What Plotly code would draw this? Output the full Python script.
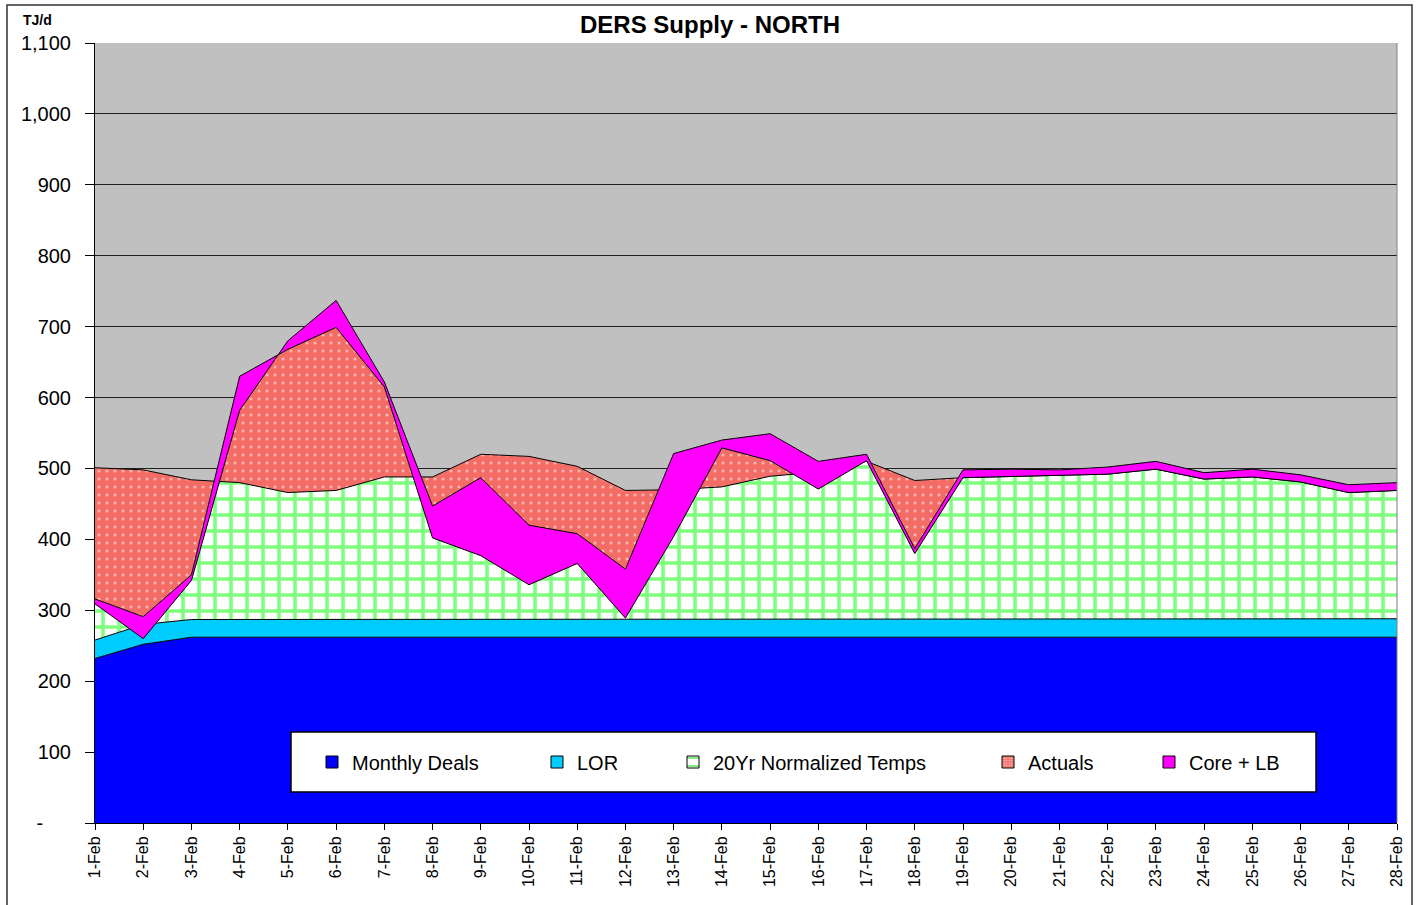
import numpy as np
import plotly.graph_objects as go

# ---------------- data (TJ/d), stacked in this order ----------------
dates = ["1-Feb", "2-Feb", "3-Feb", "4-Feb", "5-Feb", "6-Feb", "7-Feb", "8-Feb", "9-Feb", "10-Feb",
         "11-Feb", "12-Feb", "13-Feb", "14-Feb", "15-Feb", "16-Feb", "17-Feb", "18-Feb", "19-Feb",
         "20-Feb", "21-Feb", "22-Feb", "23-Feb", "24-Feb", "25-Feb", "26-Feb", "27-Feb", "28-Feb"]

monthly_deals = [232, 252, 262, 262, 262, 262, 262, 262, 262, 262, 262, 262, 262, 262,
                 262, 262, 262, 262, 262, 262, 262, 262, 262, 262, 262, 262, 262, 262]
lor = [26, 28, 25, 25, 25, 25, 25, 25, 25, 26, 26, 26, 26, 26,
       26, 26, 26, 26, 26, 26, 26, 26, 26, 26, 26, 26, 26, 26]
normalized_20yr = [243, 218, 197, 193, 179, 182, 201, 201, 233, 229, 215, 181, 182, 186,
                   201, 207, 222, 195, 199, 201, 202, 204, 211, 197, 200, 193, 178, 181]
actuals = [-185, -207, -134, 150, 202, 230, 127, -86, -143, -181, -137, -180, -66, 55,
           22, -24, 1, -103, 0, 0, 0, 0, 0, 0, 0, 0, 0, 0]
core_lb = [-7, -31, -8, -48, 12, 38, 7, 45, 110, 84, 42, 69, 117, 11,
           38, 39, 9, 7, 11, 10, 8, 10, 11, 9, 11, 10, 11, 11]

series_names = ["Monthly Deals", "LOR", "20Yr Normalized Temps", "Actuals", "Core + LB"]
y_tick_values = [0, 100, 200, 300, 400, 500, 600, 700, 800, 900, 1000, 1100]
y_tick_labels = ["-\u00a0\u00a0\u00a0\u00a0\u00a0", "100", "200", "300", "400", "500", "600",
                 "700", "800", "900", "1,000", "1,100"]

# ---------------- styling ----------------
FONT = "Liberation Sans, Arial, sans-serif"
W, H = 1420, 905
PL, PR, PT, PB = 95, 1397, 43, 823          # plot area in pixels


def px_x(px):
    return (px - PL) / (PR - PL)


def px_y(py):
    return (PB - py) / (PB - PT)


RED = "#F46C66"
styles = [
    dict(fillcolor="#0000FF"),
    dict(fillcolor="#00CCFF"),
    dict(fillpattern=dict(shape="+", fgcolor="#00FF00", bgcolor="white", size=16, solidity=0.4)),
    dict(fillpattern=dict(shape=".", fgcolor="white", bgcolor=RED, size=8, solidity=0.12)),
    dict(fillcolor="#FF00FF"),
]
legend_markers = [
    dict(color="#0000FF"),
    dict(color="#00CCFF"),
    dict(color="white", pattern=dict(shape="-", fgcolor="#00DD00", bgcolor="white", size=12, solidity=0.25)),
    dict(color=RED, pattern=dict(shape=".", fgcolor="white", bgcolor=RED, size=3, solidity=0.4)),
    dict(color="#FF00FF"),
]

fig = go.Figure()

stack = np.vstack([monthly_deals, lor, normalized_20yr, actuals, core_lb]).astype(float)
cum = np.cumsum(stack, axis=0)

for i, name in enumerate(series_names):
    fig.add_trace(go.Scatter(
        x=dates, y=cum[i], name=name, mode="lines",
        fill="tozeroy" if i == 0 else "tonexty",
        line=dict(color="black", width=1),
        showlegend=False, hoverinfo="skip",
        **styles[i],
    ))

# legend entries (square keys like the original)
legend_text_px = [349, 574, 710, 1025, 1186]
for i, name in enumerate(series_names):
    lg = "legend" if i == 0 else f"legend{i + 1}"
    fig.add_trace(go.Bar(
        x=[None], y=[None], name=name, legend=lg, showlegend=True,
        marker=dict(line=dict(color="black", width=1), **legend_markers[i]),
    ))

legend_layouts = {}
for i, tx in enumerate(legend_text_px):
    key = "legend" if i == 0 else f"legend{i + 1}"
    legend_layouts[key] = dict(
        x=px_x(tx - 37), y=px_y(762), xanchor="left", yanchor="middle",
        orientation="h", bgcolor="rgba(0,0,0,0)", borderwidth=0, itemwidth=30,
        font=dict(family=FONT, size=20, color="black"),
    )

fig.update_layout(
    width=W, height=H,
    margin=dict(l=PL, r=W - PR, t=PT, b=H - PB, autoexpand=False),
    paper_bgcolor="white", plot_bgcolor="#C0C0C0",
    font=dict(family=FONT, color="black"),
    title=dict(text="<b>DERS Supply - NORTH</b>", x=0.5, xref="container", xanchor="center",
               y=1 - 25 / H, yref="container", yanchor="middle",
               font=dict(family=FONT, size=24, color="black")),
    showlegend=True,
    **legend_layouts,
)

fig.update_xaxes(
    type="category", range=[0, len(dates) - 1], tickangle=-90,
    ticks="outside", ticklen=6, tickcolor="black", tickwidth=1,
    showline=True, linecolor="black", linewidth=1, showgrid=False,
    tickfont=dict(family=FONT, size=16, color="black"), automargin=False, fixedrange=True,
)
fig.update_yaxes(
    range=[0, 1100], tickmode="array", tickvals=y_tick_values, ticktext=y_tick_labels,
    ticks="outside", ticklen=9, tickcolor="black", tickwidth=1, ticklabelstandoff=10,
    showline=True, linecolor="black", linewidth=1,
    showgrid=True, gridcolor="#202020", gridwidth=1, zeroline=False,
    tickfont=dict(family=FONT, size=20, color="black"), automargin=False, fixedrange=True,
)

shapes = [
    # legend box
    dict(type="rect", xref="paper", yref="paper", x0=px_x(291), x1=px_x(1316),
         y0=px_y(792), y1=px_y(732), fillcolor="white", line=dict(color="black", width=1.5),
         layer="above"),
    # plot area right border
    dict(type="line", xref="paper", yref="paper", x0=1, x1=1, y0=0, y1=1,
         line=dict(color="#808080", width=1), layer="above"),
    # outer chart frame
    dict(type="rect", xref="paper", yref="paper", x0=px_x(7), x1=px_x(1412),
         y0=px_y(915), y1=px_y(5), line=dict(color="#333333", width=1.5), layer="above"),
]
fig.update_layout(shapes=shapes)

fig.add_annotation(text="<b>TJ/d</b>", xref="paper", yref="paper", x=px_x(21), y=px_y(20),
                   xanchor="left", yanchor="middle", showarrow=False,
                   font=dict(family=FONT, size=14, color="black"))

fig.write_html("out.html", config={"displayModeBar": False},
               post_script="document.body.style.margin='0px';")
